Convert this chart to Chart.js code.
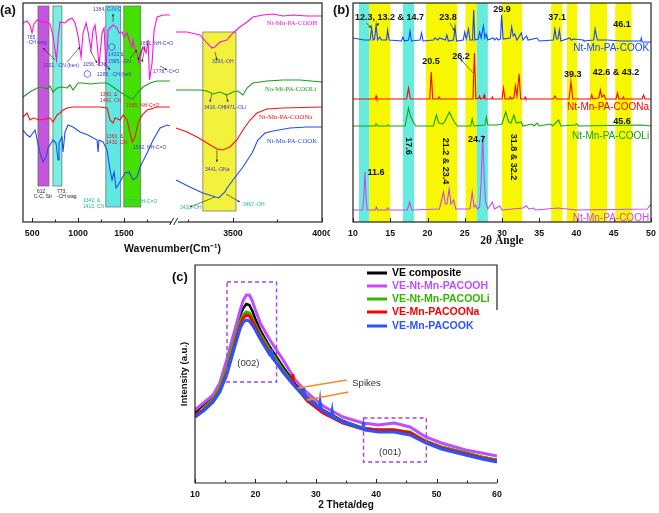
<!DOCTYPE html>
<html>
<head>
<meta charset="utf-8">
<script src="https://cdn.jsdelivr.net/npm/chart.js@4.4.0/dist/chart.umd.min.js"></script>
<style>
    body { margin: 0; background: #fff; width: 659px; height: 513px; position: relative; overflow: hidden; }
    canvas { position: absolute; }
</style>
</head>
<body>
<canvas id="graficoFTIR" width="330" height="260" style="left:0;top:0"></canvas>
<canvas id="graficoDRX" width="329" height="260" style="left:330px;top:0"></canvas>
<canvas id="graficoCompuesto" width="360" height="253" style="left:160px;top:260px"></canvas>
<script>
// ---------- (a) FTIR: [numero de onda, intensidad a.u.] ----------
const ticksA = [500, 1000, 1500, 3500, 4000];
const ticksMenoresA = [750, 1250, 1750, 3250, 3750];

const coohIzq = [[400,199],[444,201],[476,197],[498,189],[520,198],[553,202],[607,200],[662,200],[694,198],[727,186],[765,162],[785,186],[803,200],[858,199],[891,202],[934,204],[967,199],[1000,186],[1032,165],[1054,189],[1087,199],[1109,190],[1141,172],[1163,192],[1185,197],[1207,179],[1228,156],[1261,189],[1283,194],[1305,152],[1327,192],[1359,195],[1381,197],[1425,194],[1446,189],[1479,190],[1501,185],[1534,189],[1555,182],[1588,175],[1599,182],[1621,172],[1643,169],[1664,159],[1697,172],[1719,175],[1741,169],[1763,182],[1778,142],[1806,159],[1828,192],[1861,205],[1926,207],[2000,207]];
const coohDer = [[3180,190],[3242,190],[3315,187],[3354,179],[3382,174],[3399,175],[3427,180],[3466,182],[3500,189],[3539,195],[3579,200],[3612,205],[3669,207],[3725,208],[3781,206],[3837,207],[3916,206],[4000,206]];

const cooliIzq = [[400,125],[476,130],[553,134],[607,135],[662,133],[694,136],[727,130],[771,134],[825,135],[880,134],[912,137],[945,132],[1000,139],[1054,139],[1130,138],[1239,139],[1316,139],[1381,135],[1457,130],[1512,127],[1566,124],[1599,123],[1643,129],[1708,135],[1784,139],[1861,141],[2000,141]];
const cooliDer = [[3180,132],[3315,132],[3354,131],[3388,128],[3427,130],[3466,127],[3500,130],[3528,131],[3556,127],[3579,134],[3612,139],[3691,141],[3781,142],[3876,142],[4000,140]];

const coonaIzq = [[400,105],[444,109],[476,102],[509,104],[585,102],[694,104],[727,100],[771,107],[803,109],[836,112],[880,114],[945,115],[1098,115],[1239,115],[1316,114],[1348,102],[1381,99],[1403,104],[1457,102],[1490,107],[1534,102],[1566,89],[1590,80],[1621,85],[1653,99],[1697,107],[1752,112],[1861,115],[2000,115]];
const coonaDer = [[3180,94],[3242,90],[3298,85],[3354,79],[3410,73],[3441,72],[3483,75],[3522,82],[3556,92],[3596,102],[3635,109],[3691,113],[3781,114],[4000,115]];

const cookIzq = [[400,92],[444,87],[476,85],[531,92],[585,69],[618,60],[651,65],[673,74],[727,82],[760,79],[782,62],[792,79],[825,85],[836,70],[858,90],[891,97],[945,95],[1021,90],[1109,87],[1207,82],[1218,70],[1228,82],[1272,80],[1316,72],[1348,52],[1370,42],[1392,50],[1414,34],[1436,37],[1479,44],[1512,49],[1555,50],[1599,42],[1643,45],[1675,55],[1752,69],[1817,82],[1893,94],[1970,97],[2000,96]];
const cookDer = [[3180,42],[3258,35],[3331,29],[3420,24],[3455,30],[3467,34],[3500,42],[3556,55],[3607,69],[3640,82],[3680,89],[3725,91],[3820,94],[3916,95],[4000,95]];

// [desde, hasta, arriba, abajo]
const bandasA = [[563,683,216,36],[726,824,216,36],[1302,1465,216,15],[1498,1683,216,15],[3331,3517,190,11]];
const coloresBandasA = ["#c455dc", "#7af0e2", "#5fe8e2", "#44e000", "#f2f23c"];

const nombresA = [["Nt-Mn-PA-COOH",3690,199,"#ff10e0"],["Na-Mt-PA-COOLi",3680,133,"#1a9e1a"],["Nt-Mn-PA-COONa",3646,105,"#ff1010"],["Nt-Mn-PA-COOK",3690,81,"#1f4fe6"]];

const notasA = [
    [444,184,"765,","az"],[444,179,"-CH wag","az"],[618,156,"1032, -CN (ben)","az"],
    [1054,157,"1156, -CN","az"],[1207,147,"1285, -CH (bel)","az"],[1163,212,"1384, C-N-C","az"],
    [1327,167,"1433 &","az"],[1327,160,"1585, -CN","az"],[1675,178,"1651, NH-C=O","az"],
    [1817,150,"1778, -C=O","az"],[1239,127,"1360, &","ro"],[1239,121,"1442, CN","ro"],
    [1523,116,"1585, NH-C=O","ro"],[1305,85,"1360, &","ro"],[1305,79,"1432, CN","ro"],
    [1599,74,"1582, NH-C=O","az"],[553,30,"612,","ne"],[520,25,"C-C, Str","ne"],
    [771,30,"773,","ne"],[771,25,"-CH wag","ne"],[1054,21,"1342, &","ve"],
    [1054,15,"1410, CN","ve"],[1501,20,"1725, NH-C=O","ve"],
    [3382,160,"3393,-OH","az"],[3337,114,"3418,-OH","az"],[3449,114,"3471,-OLi","az"],
    [3343,52,"3441,-ONa","az"],[3202,14,"3420,-OH","ve"],[3556,17,"3467,-OH","ve"]
];
const coloresNotas = { az: "#3a3ad0", ro: "#e02020", ne: "#222", ve: "#1fb89a" };

const flechasA = [
    [749,162,618,174],[880,160,1021,175],[1130,172,1207,159],[1294,159,1348,152],
    [1381,200,1381,208],[1566,164,1643,172],[1708,176,1653,162],[1730,176,1697,160],
    [1893,156,1970,152],[3399,170,3410,162],[3382,128,3371,120],[3461,128,3472,120],
    [3410,72,3410,60],[3399,25,3258,15],[3461,28,3539,20]
];
const hexagonosA = [[1367,175],[1101,148]];

// ---------- (b) DRX: [2 theta, intensidad] ----------
const ticksB = [10, 15, 20, 25, 30, 35, 40, 45, 50];

const drxCook = [[10,184],[11.5,182],[12.3,182],[12.5,194],[12.7,182],[12.9,183],[13.1,197],[13.3,182],[13.6,185],[13.8,182],[14.5,182],[14.65,192],[14.85,182],[16.5,181],[16.7,185],[16.9,181],[17.45,182],[17.65,191],[17.85,181],[19.0,182],[19.2,189],[19.4,181],[20.8,182],[21.0,184],[21.4,182],[21.6,184],[22.4,182],[22.6,187],[22.8,181],[23.5,182],[23.7,195],[23.9,181],[24.8,182],[25.0,190],[25.2,183],[25.5,193],[25.7,182],[26.05,182],[26.2,212],[26.35,182],[26.8,183],[27.0,190],[27.2,184],[27.5,196],[27.7,184],[27.9,188],[28.1,182],[28.8,184],[29.0,182],[29.3,184],[29.5,182],[29.8,183],[29.95,207],[30.15,183],[31.1,184],[31.3,195],[31.5,186],[31.7,188],[32.0,182],[32.6,189],[32.8,182],[33.3,186],[33.5,182],[34.7,184],[35,181],[36.9,182],[37.1,193],[37.3,183],[37.5,183],[37.7,192],[37.9,181],[39.1,184],[39.3,182],[39.6,183],[40.9,182],[41,181],[42.3,182],[42.5,193],[42.8,182],[44.1,182],[46.1,181],[48.6,181],[48.7,184],[48.8,180],[50,180]];
const drxCoona = [[10,123],[13.0,123],[13.1,126],[13.2,123],[17.2,123],[17.45,134],[17.7,123],[20.3,123],[20.5,150],[20.7,123],[21.4,123],[21.55,125],[21.7,123],[26.1,123],[26.3,169],[26.5,123],[26.9,124],[27.0,126],[27.1,123],[27.5,124],[27.6,127],[27.7,123],[28.6,123],[28.7,125],[28.8,123],[30.0,123],[30.2,134],[30.4,123],[31.0,123],[31.1,125],[31.3,123],[31.6,124],[31.8,136],[32.0,126],[32.3,148],[32.5,123],[33.0,123],[33.1,125],[33.2,123],[36.9,123],[37.1,126],[37.3,123],[39.0,123],[39.25,140],[39.5,123],[41.9,123],[42.05,127],[42.2,123],[43.0,124],[43.2,132],[43.4,125],[43.7,127],[43.9,123],[45.3,123],[45.5,129],[45.7,123],[46.2,123],[46.3,125],[46.4,123],[48.8,123],[49.0,127],[49.2,123],[50,123]];
const drxCooli = [[10,96],[13.0,96],[13.1,98],[13.3,96],[14.5,96],[14.65,97],[14.8,96],[17.0,96],[17.2,104],[17.45,114],[17.7,106],[18.1,100],[18.4,96],[20.8,96],[21.0,102],[21.2,107],[21.5,99],[22.0,98],[22.3,100],[22.6,105],[22.95,110],[23.3,104],[23.6,100],[24,96],[25.8,96],[26.0,103],[26.2,96],[27.7,97],[27.9,105],[28.1,97],[29.3,97],[30.0,98],[30.5,110],[30.9,100],[31.2,99],[31.6,107],[31.9,99],[32.6,100],[32.8,96],[34.0,98],[34.3,96],[34.7,99],[35,96],[36.5,98],[36.8,96],[37.6,102],[37.9,96],[39.8,97],[40,98],[40.3,96],[48.7,97],[50,96]];
const drxCooh = [[10,12],[11.3,12],[11.45,25],[11.6,50],[11.75,25],[11.9,12],[13.0,12],[13.15,15],[13.3,12],[14.5,12],[14.65,14],[14.8,12],[17.3,12],[17.6,20],[17.9,12],[21.6,13],[21.9,22],[22.15,30],[22.4,18],[22.6,18],[22.9,33],[23.15,18],[23.5,22],[23.8,13],[25.7,13],[26.0,30],[26.25,15],[26.45,17],[26.7,13],[27.0,15],[27.2,40],[27.4,87],[27.6,45],[27.8,20],[28.1,13],[28.7,20],[29.0,13],[29.7,16],[30,12],[32.8,14],[33.0,15],[33.3,16],[33.6,13],[34.2,14],[34.5,12],[36.0,13],[37.5,14],[38.7,13],[40,12],[49.5,13],[49.9,17],[50,16]];

// [desde, hasta, tipo]
const bandasB = [[10.8,12.2,"c"],[12.2,15.0,"a"],[16.7,18.2,"c"],[19.8,24.0,"a"],[25.1,26.6,"a"],[26.6,28.1,"c"],[30.0,32.7,"a"],[36.6,38.1,"a"],[38.7,40.1,"a"],[41.8,44.1,"a"],[45.2,47.4,"a"]];

const picosB = [["12.3, 13.2 & 14.7",10.27,204,"izq"],["23.8",22.75,204],["29.9",30.0,212],["37.1",37.4,204],["46.1",46.1,197],["20.5",20.47,160],["26.2",24.5,165],["39.3",39.5,147],["42.6 & 43.2",45.3,149],["45.6",46.1,100],["11.6",13.1,49],["24.7",26.6,82]];
const picosGiradosB = [["17.6",17.4,76],["21.2 & 23.4",22.35,61],["31.8 & 32.2",31.5,65]];
const nombresB = [["Nt-Mn-PA-COOK",174,"#1646ff"],["Nt-Mn-PA-COONa",115,"#ff0000"],["Nt-Mn-PA-COOLi",86,"#13a513"],["Nt-Mn-PA-COOH",4,"#c846f5"]];
const flechasB = [[11.8,199,12.45,194],[13.5,199,13.15,196],[23.0,199,23.65,191],[26.15,149,24.4,163]];

// ---------- (c) compuestos ----------
const ticksC = [10, 20, 30, 40, 50, 60];
const ticksMenoresC = [15, 25, 35, 45, 55];

const veComposite = [[10,70],[11.4,78],[13,87],[14.1,99],[15.25,120],[16,138],[17,158],[17.5,168],[18,175],[18.5,179],[19,178],[19.5,172],[20,164],[20.8,153],[22.4,136],[23.5,126],[24.7,115],[26.6,99],[28.6,86],[31.2,73],[34.5,62],[37.8,55],[40.4,53],[43,53],[45.6,50],[48.2,42],[50.8,36],[54.8,30],[57.5,26],[60,23]];
const veCooh = [[10,73],[11.4,80],[13,88],[14.1,100],[15.25,123],[16,140],[17,162],[17.5,173],[18,183],[18.5,188],[19,188],[19.5,182],[20,173],[20.8,160],[22.4,143],[23.5,133],[24.7,122],[26.6,103],[28.6,90],[31.2,77],[34.5,66],[37.8,60],[40.4,58],[43,60],[45.6,56],[48.2,46],[50.8,40],[54.8,33],[57.5,30],[60,27]];
const veCooli = [[10,66],[11.4,74],[13,84],[14.1,95],[15.25,115],[16,132],[17,152],[17.5,162],[18,168],[18.5,171],[19,170],[19.5,165],[20,158],[20.8,149],[22.4,133],[23.5,123],[24.7,112],[26.6,97],[28.6,85],[31.2,72],[34.5,61],[37.8,55],[40.4,53],[43,53],[45.6,51],[48.2,42],[50.8,36],[54.8,30],[57.5,26],[60,23]];
const veCoona = [[10,68],[11.4,73],[13,82],[14.1,92],[15.25,110],[16,126],[17,148],[17.5,158],[18,165],[18.5,168],[19,167],[19.5,162],[20,156],[20.8,146],[22.4,130],[23.5,120],[24.7,110],[26.1,100],[26.2,109],[26.3,99],[28.6,82],[31.2,70],[34.5,60],[37.8,54],[40.4,53],[43,53],[45.6,50],[48.2,41],[50.8,35],[54.8,29],[57.5,25],[60,22]];
const veCook = [[10,66],[11.4,72],[13,81],[14.1,91],[15.25,108],[16,124],[17,145],[17.5,155],[18,161],[18.5,163],[19,162],[19.5,158],[20,153],[20.8,144],[22.4,128],[22.6,127],[22.7,134],[22.8,125],[23.5,120],[24.7,110],[26.6,96],[27.9,88],[28.0,95],[28.1,87],[28.6,84],[30.6,75],[30.7,80],[30.8,74],[31.2,72],[32.6,67],[32.7,71],[32.8,66],[34.5,61],[37.8,54],[37.9,61],[38.0,53],[40.4,51],[43,51],[45.6,48],[48.2,40],[50.8,34],[54.8,28],[57.5,24],[60,21]];

const nombresC = ["VE composite", "VE-Nt-Mn-PACOOH", "VE-Nt-Mn-PACOOLi", "VE-Mn-PACOONa", "VE-Mn-PACOOK"];
const coloresC = ["#000000", "#c24cff", "#2fb800", "#ff0000", "#2a52ff"];
// [desde, hasta, abajo, arriba]
const cajasC = [[15.3,23.5,101,201],[37.9,48.3,21,65]];
const flechasC = [[35.1,103,27.1,95],[35.4,91,28.5,83]];

const SANS = "'Liberation Sans', Arial, sans-serif";
const SERIF = "'Liberation Serif', 'Times New Roman', serif";

crearGraficoFTIR();
crearGraficoDRX();
crearGraficoCompuesto();

function xMap(w) {
    return w <= 2500 ? w : 2105 + (w - 3200) * 1.94;
}

function flecha(ctx, x1, y1, x2, y2, color, ancho, punta) {
    ctx.save();
    ctx.strokeStyle = color;
    ctx.fillStyle = color;
    ctx.lineWidth = ancho;
    ctx.beginPath();
    ctx.moveTo(x1, y1);
    ctx.lineTo(x2, y2);
    ctx.stroke();
    const ang = Math.atan2(y2 - y1, x2 - x1);
    ctx.beginPath();
    ctx.moveTo(x2, y2);
    ctx.lineTo(x2 - punta * Math.cos(ang - 0.45), y2 - punta * Math.sin(ang - 0.45));
    ctx.lineTo(x2 - punta * Math.cos(ang + 0.45), y2 - punta * Math.sin(ang + 0.45));
    ctx.closePath();
    ctx.fill();
    ctx.restore();
}

function marcasInternas(ctx, escala, valores, largo, abajo) {
    ctx.beginPath();
    valores.forEach(v => {
        const px = Math.round(escala.getPixelForValue(v)) + 0.5;
        ctx.moveTo(px, abajo);
        ctx.lineTo(px, abajo - largo);
    });
    ctx.stroke();
}

function opcionesBase(padding, yMax) {
    return {
        responsive: false,
        animation: false,
        layout: { padding },
        plugins: { legend: { display: false }, tooltip: { enabled: false } },
        elements: { point: { radius: 0 }, line: { tension: 0 } },
        scales: {
            y: { display: false, min: 0, max: yMax }
        }
    };
}

function ejeX(min, max, ticks, titulo, fuenteTitulo, paddingTitulo, altura, etiquetas) {
    return {
        type: "linear",
        min,
        max,
        afterBuildTicks: s => { s.ticks = ticks.map(v => ({ value: v })); },
        afterFit: s => { s.height = altura; s.paddingLeft = 0; s.paddingRight = 0; },
        grid: { display: false, drawTicks: false },
        border: { display: false },
        ticks: {
            autoSkip: false,
            maxRotation: 0,
            padding: 6,
            color: "#111",
            font: { family: SANS, weight: "bold", size: 8.8 },
            callback: (v, i) => etiquetas ? etiquetas[i] : String(v)
        },
        title: {
            display: true,
            text: titulo,
            color: "#111",
            font: fuenteTitulo,
            padding: { top: 0, bottom: paddingTitulo }
        }
    };
}

function crearGraficoFTIR() {
    const series = [
        [coohIzq, "#ff10e0"], [coohDer, "#ff10e0"],
        [cooliIzq, "#1a9e1a"], [cooliDer, "#1a9e1a"],
        [coonaIzq, "#ff1010"], [coonaDer, "#ff1010"],
        [cookIzq, "#1f4fe6"], [cookDer, "#1f4fe6"]
    ];

    const decoracion = {
        id: "decoracionFTIR",
        beforeDatasetsDraw(chart) {
            const { ctx, scales: { x, y } } = chart;
            ctx.save();
            bandasA.forEach((b, i) => {
                const x1 = x.getPixelForValue(xMap(b[0]));
                const x2 = x.getPixelForValue(xMap(b[1]));
                const y1 = y.getPixelForValue(b[2]);
                const y2 = y.getPixelForValue(b[3]);
                ctx.fillStyle = coloresBandasA[i];
                ctx.fillRect(x1, y1, x2 - x1, y2 - y1);
                ctx.strokeStyle = "#666";
                ctx.lineWidth = 0.7;
                ctx.strokeRect(x1, y1, x2 - x1, y2 - y1);
            });
            ctx.restore();
        },
        afterDraw(chart) {
            const { ctx, chartArea: a, scales: { x, y } } = chart;
            ctx.save();
            ctx.strokeStyle = "#222";
            ctx.lineWidth = 1.2;
            ctx.strokeRect(a.left, a.top, a.right - a.left, a.bottom - a.top);
            ctx.lineWidth = 1;
            marcasInternas(ctx, x, ticksA.map(xMap), 4, a.bottom);
            marcasInternas(ctx, x, ticksMenoresA.map(xMap), 2.5, a.bottom);

            // corte del eje
            const xc = x.getPixelForValue(2052);
            ctx.fillStyle = "#fff";
            ctx.fillRect(xc - 3, a.bottom - 2, 6, 4);
            ctx.beginPath();
            ctx.moveTo(xc - 5, a.bottom + 3);
            ctx.lineTo(xc - 1, a.bottom - 4);
            ctx.moveTo(xc - 1, a.bottom + 3);
            ctx.lineTo(xc + 3, a.bottom - 4);
            ctx.stroke();

            flechasA.forEach(f => {
                flecha(ctx, x.getPixelForValue(xMap(f[0])), y.getPixelForValue(f[1]),
                    x.getPixelForValue(xMap(f[2])), y.getPixelForValue(f[3]), "#222", 0.6, 2.5);
            });

            ctx.strokeStyle = "#3a3ad0";
            ctx.lineWidth = 0.7;
            hexagonosA.forEach(h => {
                const cx = x.getPixelForValue(xMap(h[0]));
                const cy = y.getPixelForValue(h[1]);
                ctx.beginPath();
                for (let k = 0; k < 6; k++) {
                    const ang = Math.PI / 6 + k * Math.PI / 3;
                    ctx.lineTo(cx + 3.5 * Math.cos(ang), cy + 3.5 * Math.sin(ang));
                }
                ctx.closePath();
                ctx.stroke();
            });

            ctx.textBaseline = "middle";
            ctx.textAlign = "left";
            ctx.font = "5px " + SANS;
            notasA.forEach(n => {
                ctx.fillStyle = coloresNotas[n[3]];
                ctx.fillText(n[2], x.getPixelForValue(xMap(n[0])), y.getPixelForValue(n[1]));
            });

            ctx.font = "6.8px " + SERIF;
            nombresA.forEach(n => {
                ctx.fillStyle = n[3];
                ctx.fillText(n[0], x.getPixelForValue(xMap(n[1])), y.getPixelForValue(n[2]));
            });

            ctx.fillStyle = "#111";
            ctx.font = "bold 13px " + SANS;
            ctx.textBaseline = "alphabetic";
            ctx.fillText("(a)", 0, 14);
            ctx.restore();
        }
    };

    const opciones = opcionesBase({ left: 23, right: 8, top: 3, bottom: 0 }, 219);
    opciones.scales.x = ejeX(400, xMap(4000), ticksA.map(xMap), "Wavenumber(Cm\u207B\u00B9)",
        { family: SANS, weight: "bold", size: 10.5, lineHeight: 1.2 }, 5, 38, ticksA.map(String));

    new Chart(document.getElementById("graficoFTIR"), {
        type: "line",
        data: {
            datasets: series.map(([puntos, color]) => ({
                data: puntos.map(([w, v]) => ({ x: xMap(w), y: v })),
                borderColor: color,
                borderWidth: 1.1,
                fill: false
            }))
        },
        options: opciones,
        plugins: [decoracion]
    });
}

function crearGraficoDRX() {
    const series = [
        [drxCook, "#1646ff"], [drxCoona, "#ff0000"], [drxCooli, "#13a513"], [drxCooh, "#c846f5"]
    ];

    const decoracion = {
        id: "decoracionDRX",
        beforeDatasetsDraw(chart) {
            const { ctx, chartArea: a, scales: { x } } = chart;
            ctx.save();
            bandasB.forEach(b => {
                const x1 = x.getPixelForValue(b[0]);
                const x2 = x.getPixelForValue(b[1]);
                ctx.fillStyle = b[2] === "c" ? "#66ecdc" : "#f7f700";
                ctx.fillRect(x1, a.top, x2 - x1, a.bottom - a.top);
            });
            ctx.restore();
        },
        afterDraw(chart) {
            const { ctx, chartArea: a, scales: { x, y } } = chart;
            ctx.save();
            ctx.strokeStyle = "#222";
            ctx.lineWidth = 1.2;
            ctx.strokeRect(a.left, a.top, a.right - a.left, a.bottom - a.top);
            ctx.lineWidth = 1;
            marcasInternas(ctx, x, ticksB, 4, a.bottom);

            flechasB.forEach(f => {
                flecha(ctx, x.getPixelForValue(f[0]), y.getPixelForValue(f[1]),
                    x.getPixelForValue(f[2]), y.getPixelForValue(f[3]), "#333", 0.7, 3);
            });

            ctx.fillStyle = "#111";
            ctx.font = "bold 9px " + SANS;
            ctx.textBaseline = "middle";
            picosB.forEach(p => {
                ctx.textAlign = p[3] === "izq" ? "left" : "center";
                ctx.fillText(p[0], x.getPixelForValue(p[1]), y.getPixelForValue(p[2]));
            });
            ctx.textAlign = "center";
            picosGiradosB.forEach(p => {
                ctx.save();
                ctx.translate(x.getPixelForValue(p[1]), y.getPixelForValue(p[2]));
                ctx.rotate(Math.PI / 2);
                ctx.fillText(p[0], 0, 0);
                ctx.restore();
            });

            ctx.font = "10px " + SANS;
            ctx.textAlign = "right";
            nombresB.forEach(n => {
                ctx.fillStyle = n[2];
                ctx.fillText(n[0], x.getPixelForValue(49.75), y.getPixelForValue(n[1]));
            });

            ctx.fillStyle = "#111";
            ctx.font = "bold 13px " + SANS;
            ctx.textAlign = "left";
            ctx.textBaseline = "alphabetic";
            ctx.fillText("(b)", 3, 14);
            ctx.restore();
        }
    };

    const opciones = opcionesBase({ left: 23, right: 8, top: 3, bottom: 0 }, 219);
    opciones.scales.x = ejeX(10, 50, ticksB, "2\u03B8 Angle",
        { family: SERIF, weight: "bold", size: 11.5, lineHeight: 1.2 }, 12, 38);

    new Chart(document.getElementById("graficoDRX"), {
        type: "line",
        data: {
            datasets: series.map(([puntos, color]) => ({
                data: puntos,
                borderColor: color,
                borderWidth: 1.1,
                fill: false
            }))
        },
        options: opciones,
        plugins: [decoracion]
    });
}

function crearGraficoCompuesto() {
    const series = [veComposite, veCooh, veCooli, veCoona, veCook];

    const decoracion = {
        id: "decoracionCompuesto",
        afterDraw(chart) {
            const { ctx, chartArea: a, scales: { x, y } } = chart;
            ctx.save();
            ctx.strokeStyle = "#222";
            ctx.lineWidth = 1.2;
            ctx.beginPath();
            ctx.moveTo(a.right, a.top + 45);
            ctx.lineTo(a.right, a.top);
            ctx.lineTo(a.left, a.top);
            ctx.lineTo(a.left, a.bottom);
            ctx.lineTo(a.right, a.bottom);
            ctx.stroke();
            ctx.lineWidth = 1;
            marcasInternas(ctx, x, ticksC, 4, a.bottom);
            marcasInternas(ctx, x, ticksMenoresC, 2.5, a.bottom);

            ctx.strokeStyle = "#a040e8";
            ctx.lineWidth = 1.4;
            ctx.setLineDash([4, 3]);
            cajasC.forEach(c => {
                const x1 = x.getPixelForValue(c[0]);
                const x2 = x.getPixelForValue(c[1]);
                const y1 = y.getPixelForValue(c[3]);
                const y2 = y.getPixelForValue(c[2]);
                ctx.strokeRect(x1, y1, x2 - x1, y2 - y1);
            });
            ctx.setLineDash([]);

            flechasC.forEach(f => {
                flecha(ctx, x.getPixelForValue(f[0]), y.getPixelForValue(f[1]),
                    x.getPixelForValue(f[2]), y.getPixelForValue(f[3]), "#f08a24", 1.3, 4);
            });

            ctx.fillStyle = "#333";
            ctx.font = "9.5px " + SANS;
            ctx.textAlign = "center";
            ctx.textBaseline = "middle";
            ctx.fillText("(002)", x.getPixelForValue(18.84), y.getPixelForValue(120));
            ctx.fillText("(001)", x.getPixelForValue(42.3), y.getPixelForValue(31));
            ctx.fillText("Spikes", x.getPixelForValue(38.4), y.getPixelForValue(100));

            ctx.font = "bold 10.5px " + SANS;
            ctx.textAlign = "left";
            const filas = [8, 21, 34, 47, 61];
            nombresC.forEach((nombre, i) => {
                const yy = a.top + filas[i];
                ctx.strokeStyle = coloresC[i];
                ctx.lineWidth = 3;
                ctx.beginPath();
                ctx.moveTo(a.right - 130, yy);
                ctx.lineTo(a.right - 110, yy);
                ctx.stroke();
                ctx.fillStyle = coloresC[i];
                ctx.fillText(nombre, a.right - 105, yy);
            });

            ctx.fillStyle = "#111";
            ctx.font = "bold 13px " + SANS;
            ctx.textBaseline = "alphabetic";
            ctx.fillText("(c)", 12, 21);
            ctx.restore();
        }
    };

    const opciones = opcionesBase({ left: 0, right: 23, top: 5, bottom: 0 }, 218);
    opciones.scales.x = ejeX(10, 60, ticksC, "2 Theta/deg",
        { family: SANS, weight: "bold", size: 10, lineHeight: 1.2 }, 2, 30);
    opciones.scales.y = {
        display: true,
        min: 0,
        max: 218,
        afterFit: s => { s.width = 35; },
        ticks: { display: false },
        grid: { display: false, drawTicks: false },
        border: { display: false },
        title: {
            display: true,
            text: "Intensity (a.u.)",
            color: "#111",
            font: { family: SANS, weight: "bold", size: 9.5, lineHeight: 1.2 },
            padding: { top: 19, bottom: 0 }
        }
    };

    new Chart(document.getElementById("graficoCompuesto"), {
        type: "line",
        data: {
            datasets: series.map((puntos, i) => ({
                label: nombresC[i],
                data: puntos,
                borderColor: coloresC[i],
                borderWidth: i === 0 ? 2.4 : 3,
                order: 4 - i,
                fill: false
            }))
        },
        options: opciones,
        plugins: [decoracion]
    });
}
</script>
</body>
</html>
